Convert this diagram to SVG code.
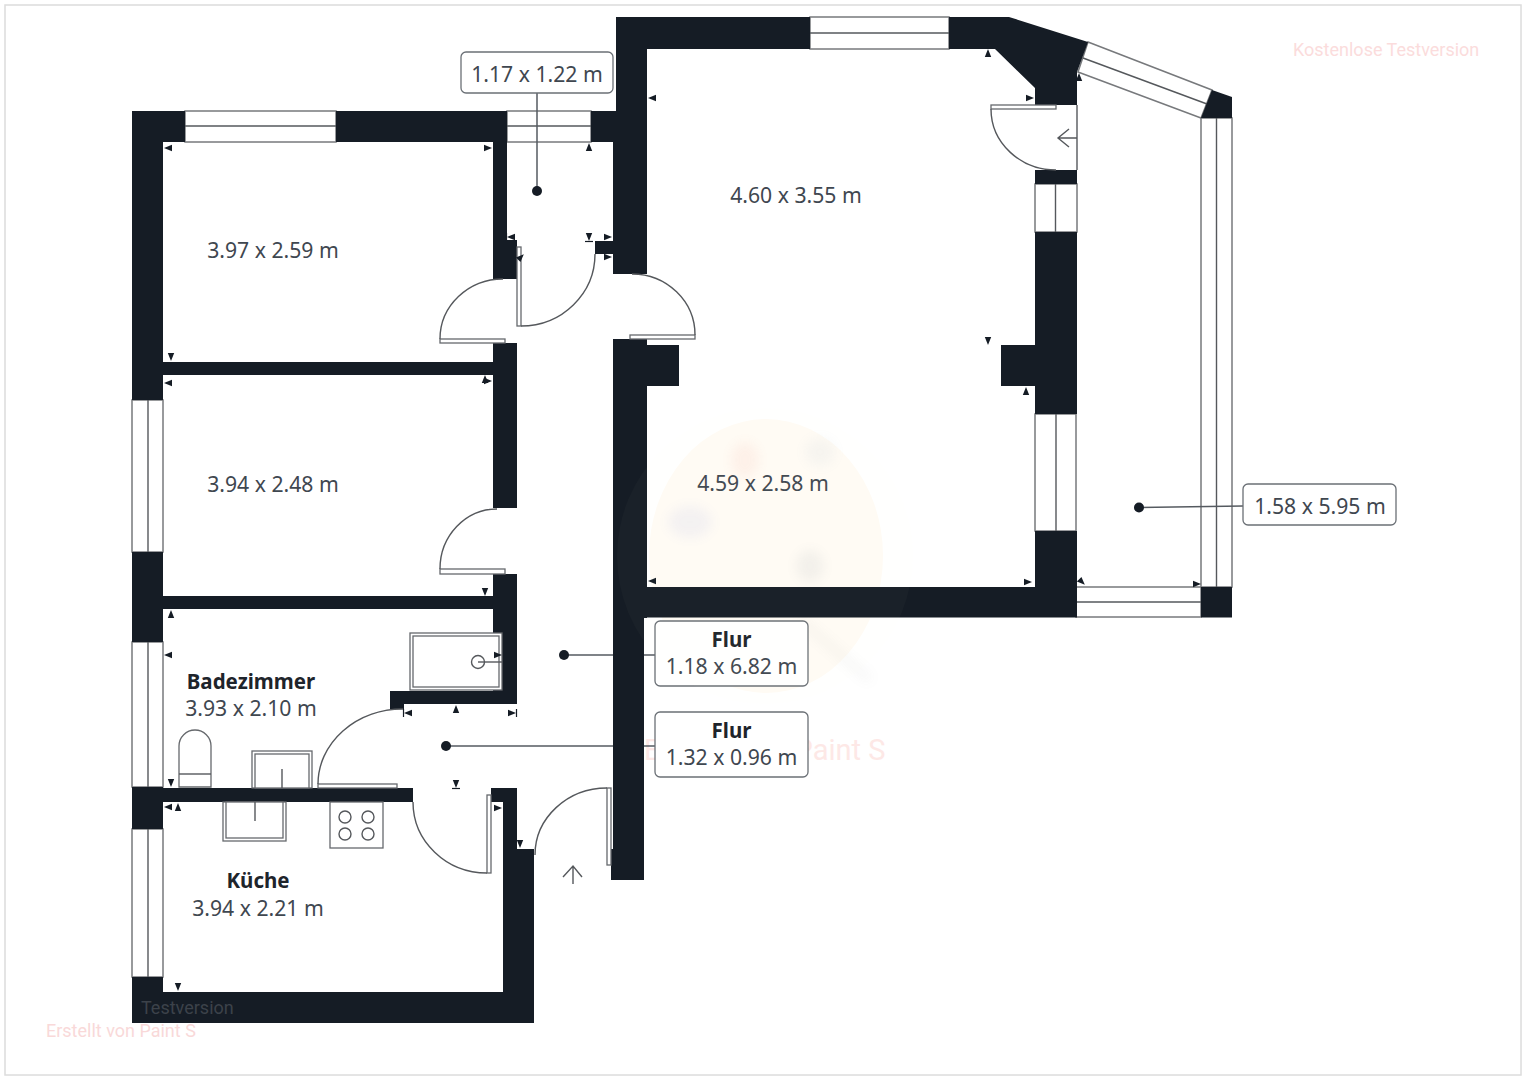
<svg xmlns="http://www.w3.org/2000/svg" width="1527" height="1080" viewBox="0 0 1527 1080">
<style>
.wall{fill:#151c25}
.win{fill:#fff;stroke:#77797c;stroke-width:1.5}
.ln{fill:none;stroke:#55585c;stroke-width:1.4}
.fx{fill:#fff;stroke:#66696d;stroke-width:1.3}
.leader{fill:none;stroke:#555a60;stroke-width:1.5}
.dot{fill:#151c25}
.box{fill:#fff;stroke:#6b7076;stroke-width:1.3}
text{font-family:"Noto Sans","Open Sans",sans-serif;font-size:21.200px;fill:#3f4750;text-anchor:middle}
.name{font-weight:700;fill:#1e242b;font-size:20.500px}
.wm{font-family:Roboto,"Liberation Sans",sans-serif;fill:#fbdcdc;text-anchor:start}
</style>
<defs>
<path id="t" d="M-4 -3.200L4 0L-4 3.200Z" fill="#151c25"/>
<g id="tb"><path d="M-4 -3.200L4 0L-4 3.200Z" fill="#151c25"/><path d="M4.500 -4V4" stroke="#151c25" stroke-width="1.200"/></g>
<filter id="soft" x="-30%" y="-30%" width="160%" height="160%"><feGaussianBlur stdDeviation="6"/></filter>
</defs>
<rect x="0" y="0" width="1527" height="1080" fill="#fff"/>
<rect x="5" y="5" width="1516" height="1070" fill="none" stroke="#dcdcdc" stroke-width="1.500"/>

<g id="watermark-back">
<ellipse cx="766" cy="556" rx="117" ry="137" fill="#fffbf5"/>
<g filter="url(#soft)" opacity=".07">
<ellipse cx="745" cy="460" rx="14" ry="18" fill="#e9705a"/>
<ellipse cx="690" cy="522" rx="22" ry="16" fill="#6a78d8"/>
<ellipse cx="820" cy="452" rx="15" ry="14" fill="#8aa0b8"/>
<ellipse cx="810" cy="566" rx="14" ry="16" fill="#5a6a78"/>
<path d="M800 620L870 680" stroke="#8a8a8a" stroke-width="8" fill="none"/>
</g>
<text class="wm" x="644" y="760" style="font-size:29px;fill:#fde8e6">Erstellt von Paint S</text>
</g>

<g id="windows">
<rect class="win" x="185" y="111" width="151" height="31"/><path class="ln" d="M185 126H336"/>
<rect class="win" x="507" y="111" width="84" height="31"/><path class="ln" d="M507 126H591"/>
<rect class="win" x="810" y="17" width="139" height="32"/><path class="ln" d="M810 33H949"/>
<rect class="win" x="132" y="400" width="31" height="152"/><path class="ln" d="M148 400V552"/>
<rect class="win" x="132" y="642" width="31" height="145"/><path class="ln" d="M148 642V787"/>
<rect class="win" x="132" y="829" width="31" height="148"/><path class="ln" d="M148 829V977"/>
<rect class="win" x="1035" y="184" width="42" height="48"/><path class="ln" d="M1055.500 184V232"/>
<rect class="win" x="1035" y="414" width="41" height="117"/><path class="ln" d="M1056 414V531"/>
<rect class="win" x="1076" y="587" width="125" height="30"/><path class="ln" d="M1076 602H1201"/>
<rect class="win" x="1201" y="118" width="31" height="469"/><path class="ln" d="M1216.500 118V587"/>
<path class="win" d="M1088 42L1212 90L1201 118L1078 72Z"/><path class="ln" d="M1083 58L1207 104"/>
<path class="ln" d="M1077 105V170"/>
</g>

<g id="connectors">
<path class="leader" d="M537 93V191"/>
<path class="leader" d="M1139 507.500L1243 506"/>
<path class="leader" d="M564 655H655"/>
<path class="leader" d="M446 746H655"/>
</g>

<g id="walls" class="wall">
<rect x="132" y="111" width="53" height="31"/>
<rect x="336" y="111" width="171" height="31"/>
<rect x="132" y="111" width="31" height="289"/>
<rect x="132" y="552" width="31" height="90"/>
<rect x="132" y="787" width="31" height="42"/>
<rect x="132" y="977" width="31" height="46"/>
<rect x="132" y="992" width="402" height="31"/>
<rect x="503" y="849" width="31" height="174"/>
<rect x="503" y="788" width="14" height="61"/>
<rect x="491" y="788" width="26" height="14"/>
<rect x="163" y="362" width="330" height="13"/>
<rect x="163" y="596" width="330" height="13"/>
<rect x="132" y="788" width="281" height="14"/>
<rect x="493" y="142" width="14" height="98"/>
<rect x="493" y="240" width="24" height="39"/>
<rect x="493" y="343" width="24" height="165"/>
<rect x="493" y="574" width="24" height="130"/>
<rect x="390" y="691" width="127" height="13"/>
<rect x="390" y="704" width="14" height="5"/>
<rect x="591" y="111" width="25" height="31"/>
<rect x="616" y="17" width="31" height="125"/>
<rect x="613" y="142" width="34" height="132"/>
<rect x="595" y="241" width="18" height="13"/>
<rect x="613" y="339" width="34" height="279"/>
<rect x="647" y="345" width="32" height="41"/>
<rect x="613" y="618" width="31" height="262"/>
<rect x="611" y="849" width="3" height="31"/>
<rect x="647" y="17" width="163" height="32"/>
<path d="M949 17H1009L1088 42L1077 72V105H1035V88L995 49H949Z"/>
<rect x="647" y="587" width="430" height="30.500"/>
<rect x="1035" y="170" width="42" height="14"/>
<rect x="1035" y="232" width="42" height="182"/>
<rect x="1035" y="531" width="42" height="86"/>
<rect x="1001" y="345" width="34" height="41"/>
<rect x="1201" y="587" width="31" height="30.500"/>
<path d="M1212 90L1232 97V118H1201Z"/>
</g>

<g id="doors">
<rect class="fx" x="440" y="339" width="65" height="4"/><path class="ln" d="M503 279A63 60 0 0 0 440 339"/>
<rect class="fx" x="630" y="335" width="65" height="4"/><path class="ln" d="M632 274A63 61 0 0 1 695 335"/>
<rect class="fx" x="517" y="247" width="4" height="79"/><path class="ln" d="M521 326A74 72 0 0 0 595 254"/>
<rect class="fx" x="440" y="569" width="65" height="5"/><path class="ln" d="M497 509A57 60 0 0 0 440 569"/>
<rect class="fx" x="318" y="784" width="79" height="4"/><path class="ln" d="M403 709A85 75 0 0 0 318 784"/>
<rect class="fx" x="487" y="795" width="4" height="78"/><path class="ln" d="M413 802A74 71 0 0 0 487 873"/>
<rect class="fx" x="607" y="788" width="4" height="77"/><path class="ln" d="M607 788A72 67 0 0 0 535 855"/>
<rect class="fx" x="991" y="105" width="65" height="4"/><path class="ln" d="M991 109A65 61 0 0 0 1056 170"/>
<path class="ln" d="M573 884V866M563 877L573 866L582 877"/>
<path class="ln" d="M1077 138H1058M1069 129L1058 138L1069 147"/>
</g>

<g id="fixtures">
<g id="toilet"><path class="fx" d="M179 787V746A16 16 0 0 1 211 746V787Z"/><path class="ln" d="M179 774H211"/></g>
<g id="bath-sink"><rect class="fx" x="252" y="751" width="60" height="37"/><rect class="fx" x="255" y="754" width="54" height="34"/><path class="ln" d="M282 769V788"/></g>
<g id="kitchen-sink"><rect class="fx" x="223" y="802" width="63" height="39"/><rect class="fx" x="226" y="802" width="57" height="36"/><path class="ln" d="M255 802V821"/></g>
<g id="stove"><rect class="fx" x="330" y="802" width="53" height="46"/><circle class="ln" cx="345" cy="817" r="6"/><circle class="ln" cx="368" cy="817" r="6"/><circle class="ln" cx="345" cy="834" r="6"/><circle class="ln" cx="368" cy="834" r="6"/></g>
<g id="shower"><rect class="fx" x="410" y="633" width="92" height="57"/><rect class="fx" x="413" y="636" width="86" height="51"/><circle class="ln" cx="478" cy="662" r="6.500"/><path class="ln" d="M478 662H502"/></g>
</g>

<g id="ticks">
<use href="#t" transform="translate(488 148)"/>
<use href="#t" transform="translate(652 98) rotate(180)"/>
<use href="#t" transform="translate(589 147) rotate(-90)"/>
<use href="#tb" transform="translate(511 237) rotate(180)"/>
<use href="#tb" transform="translate(589 237) rotate(90)"/>
<use href="#t" transform="translate(608 237)"/>
<use href="#t" transform="translate(608 257)"/>
<use href="#t" transform="translate(521 257) rotate(-45)"/>
<use href="#t" transform="translate(988 53) rotate(-90)"/>
<use href="#t" transform="translate(1030 98)"/>
<use href="#t" transform="translate(1079 77) rotate(-90)"/>
<use href="#t" transform="translate(171 614) rotate(-90)"/>
<use href="#t" transform="translate(168 655) rotate(180)"/>
<use href="#t" transform="translate(171 783) rotate(90)"/>
<use href="#t" transform="translate(168 807) rotate(180)"/>
<use href="#t" transform="translate(178 807) rotate(-90)"/>
<use href="#tb" transform="translate(408 713) rotate(180)"/>
<use href="#t" transform="translate(498 655)"/>
<use href="#t" transform="translate(456 709) rotate(-90)"/>
<use href="#tb" transform="translate(512 713)"/>
<use href="#tb" transform="translate(456 784) rotate(90)"/>
<use href="#t" transform="translate(498 808)"/>
<use href="#t" transform="translate(520 844) rotate(90)"/>
<use href="#t" transform="translate(652 581) rotate(180)"/>
<use href="#t" transform="translate(988 341) rotate(90)"/>
<use href="#t" transform="translate(1026 391) rotate(-90)"/>
<use href="#t" transform="translate(1028 582)"/>
<use href="#t" transform="translate(1082 582) rotate(45)"/>
<use href="#t" transform="translate(1197 584)"/>
<use href="#t" transform="translate(178 987) rotate(90)"/>
<use href="#t" transform="translate(168 148) rotate(180)"/>
<use href="#t" transform="translate(171 357) rotate(90)"/>
<use href="#t" transform="translate(168 383) rotate(180)"/>
<use href="#t" transform="translate(488 381)"/>
<use href="#t" transform="translate(485 379) rotate(-90)"/>
<use href="#t" transform="translate(485 592) rotate(90)"/>
</g>

<g id="room-labels">
<text x="273" y="258">3.97 x 2.59 m</text>
<text x="273" y="492">3.94 x 2.48 m</text>
<text x="796" y="203">4.60 x 3.55 m</text>
<text x="763" y="491">4.59 x 2.58 m</text>
<text class="name" x="251" y="689">Badezimmer</text>
<text x="251" y="716">3.93 x 2.10 m</text>
<text class="name" x="258" y="888">Küche</text>
<text x="258" y="916">3.94 x 2.21 m</text>
</g>

<g id="label-1-17"><rect class="box" x="461" y="52" width="152" height="41" rx="5"/><text x="537" y="82">1.17 x 1.22 m</text><circle class="dot" cx="537" cy="191" r="5"/></g>
<g id="label-1-58"><rect class="box" x="1243" y="484" width="153" height="41" rx="5"/><text x="1320" y="514">1.58 x 5.95 m</text><circle class="dot" cx="1139" cy="507.500" r="5"/></g>
<g id="label-flur-1"><rect class="box" x="655" y="621" width="153" height="65" rx="5"/><text class="name" x="731.500" y="647">Flur</text><text x="731.500" y="674">1.18 x 6.82 m</text><circle class="dot" cx="564" cy="655" r="5"/></g>
<g id="label-flur-2"><rect class="box" x="655" y="712" width="153" height="65" rx="5"/><text class="name" x="731.500" y="738">Flur</text><text x="731.500" y="765">1.32 x 0.96 m</text><circle class="dot" cx="446" cy="746" r="5"/></g>

<g id="watermark-front">
<circle cx="765" cy="556" r="148" fill="#f8ecd8" opacity=".025"/>
<text class="wm" x="1293" y="56" style="font-size:18px">Kostenlose Testversion</text>
<text class="wm" x="141" y="1014" style="font-size:18px;fill:#3c424a">Testversion</text>
<text class="wm" x="46" y="1037" style="font-size:18px;fill:#f9d9d9">Erstellt von Paint S</text>
</g>
</svg>
